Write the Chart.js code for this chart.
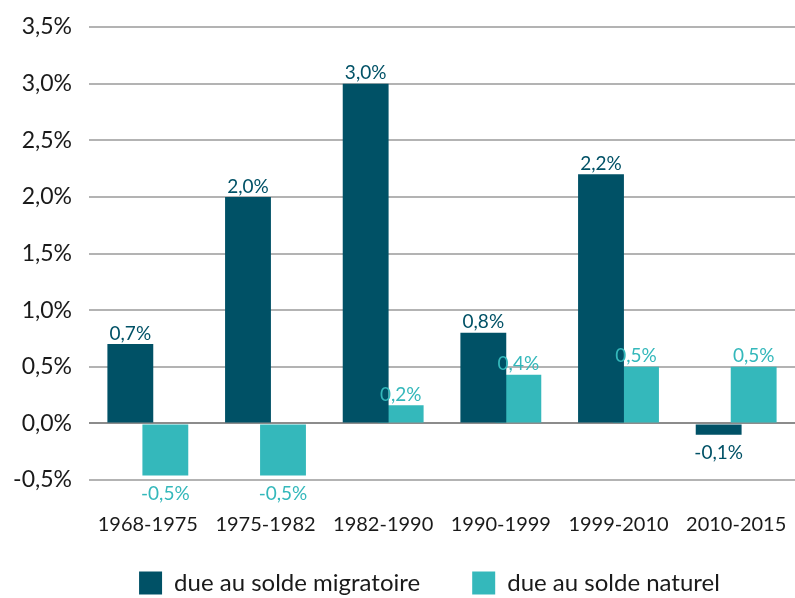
<!DOCTYPE html>
<html>
<head>
<meta charset="utf-8">
<script src="https://cdn.jsdelivr.net/npm/chart.js@4.4.1/dist/chart.umd.min.js"></script>
<style>
  html, body { margin: 0; padding: 0; background: #fff; }
  #wrap { width: 795px; height: 598px; }
</style>
</head>
<body>
<div id="wrap"><canvas id="canvas-chart"></canvas></div>
<script>
const periods = ['1968-1975', '1975-1982', '1982-1990', '1990-1999', '1999-2010', '2010-2015'];
const soldeMigratoire = [0.7, 2.0, 3.0, 0.8, 2.2, -0.1];
const soldeNaturel = [-0.46, -0.46, 0.16, 0.43, 0.5, 0.5];
const seriesNames = ['due au solde migratoire', 'due au solde naturel'];
const yTicks = [-0.5, 0, 0.5, 1, 1.5, 2, 2.5, 3, 3.5];

const darkColor = '#005166';
const lightColor = '#34b8bb';
const fontFamily = 'Lato, "Liberation Sans", sans-serif';

const fmtPct = (v) => v.toFixed(1).replace('.', ',') + '%';

// etiquettes au-dessus / en dessous des barres
const barLabels = {
    id: 'barLabels',
    afterLayout(chart) {
        // la legende est un peu decalee (droite, haut)
        chart.legend.left += 32;
        chart.legend.right += 32;
        chart.legend.top -= 23;
        chart.legend.bottom -= 23;
    },
    afterDatasetsDraw(chart) {
        const ctx = chart.ctx;
        ctx.save();
        ctx.font = '19px ' + fontFamily;
        ctx.textAlign = 'center';
        chart.data.datasets.forEach((ds, i) => {
            const meta = chart.getDatasetMeta(i);
            meta.data.forEach((bar, j) => {
                const v = ds.data[j];
                ctx.fillStyle = ds.backgroundColor;
                if (v >= 0) {
                    ctx.textBaseline = 'bottom';
                    ctx.fillText(fmtPct(v), bar.x, bar.y - 1);
                } else {
                    ctx.textBaseline = 'top';
                    ctx.fillText(fmtPct(v), bar.x, bar.y + 9);
                }
            });
        });
        ctx.restore();
    }
};

const chartConfig = {
    type: 'bar',
    data: {
        labels: periods,
        datasets: [
            {
                label: seriesNames[0],
                data: soldeMigratoire,
                backgroundColor: darkColor,
            },
            {
                label: seriesNames[1],
                data: soldeNaturel,
                backgroundColor: lightColor,
            }
        ]
    },
    options: {
        responsive: true,
        maintainAspectRatio: false,
        animation: false,
        categoryPercentage: 0.595,
        barPercentage: 1.31,
        layout: {
            padding: { top: 0, right: 0, left: 0, bottom: -30 }
        },
        scales: {
            x: {
                grid: {
                    display: true,
                    drawOnChartArea: false,
                    drawTicks: true,
                    tickLength: 28,
                    tickColor: 'rgba(0,0,0,0)',
                },
                border: { display: false },
                ticks: {
                    color: '#1a1a1a',
                    padding: 5,
                    font: { family: fontFamily, size: 20 },
                },
            },
            y: {
                min: -0.5,
                max: 3.5,
                afterBuildTicks: (axis) => {
                    axis.ticks = yTicks.map(v => ({ value: v }));
                },
                afterFit: (axis) => {
                    axis.width = 89;
                    axis.paddingTop = 27;
                },
                grid: {
                    drawTicks: false,
                    lineWidth: 2,
                    color: (c) => c.tick && c.tick.value === 0 ? '#8c8c8c' : '#b3b3b3',
                },
                border: { display: false },
                ticks: {
                    color: '#1a1a1a',
                    padding: 17,
                    font: { family: fontFamily, size: 23 },
                    callback: (v) => fmtPct(v),
                },
            }
        },
        plugins: {
            legend: {
                position: 'bottom',
                labels: {
                    color: '#1a1a1a',
                    boxWidth: 23,
                    boxHeight: 23,
                    padding: 52,
                    font: { family: fontFamily, size: 24 },
                },
            },
            tooltip: { enabled: false },
        }
    },
    plugins: [barLabels],
};

new Chart(document.getElementById('canvas-chart').getContext('2d'), chartConfig);
</script>
</body>
</html>
